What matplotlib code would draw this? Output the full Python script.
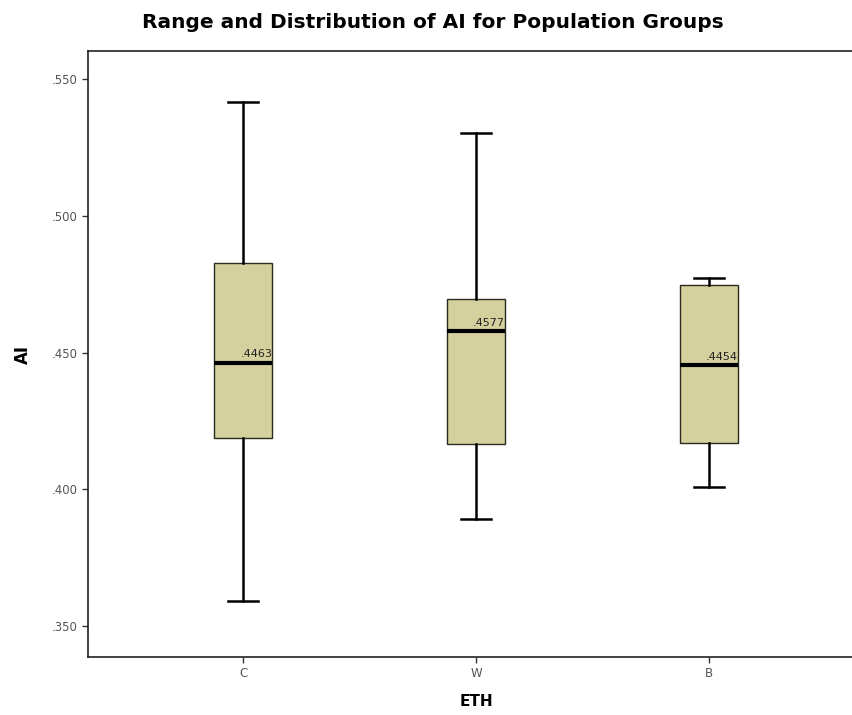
import matplotlib
matplotlib.use("Agg")
import matplotlib.pyplot as plt

# values
groups = ["C", "W", "B"]
whisker_low = [0.3592, 0.3891, 0.4008]
box_low = [0.4186, 0.4166, 0.4168]
medians = [0.4463, 0.4577, 0.4454]
box_high = [0.4828, 0.4696, 0.4748]
whisker_high = [0.5416, 0.5303, 0.4772]
median_labels = [".4463", ".4577", ".4454"]

y_ticks = [0.35, 0.40, 0.45, 0.50, 0.55]
y_tick_labels = [".350", ".400", ".450", ".500", ".550"]

plt.rcParams["font.family"] = ["DejaVu Sans"]

fig = plt.figure(figsize=(8.53, 7.15), dpi=100)
ax = fig.add_axes([88 / 853, 1 - 657 / 715, (864 - 88) / 853, (657 - 51) / 715])

positions = [1, 2, 3]
stats = []
for i, name in enumerate(groups):
    stats.append({
        "label": name,
        "whislo": whisker_low[i],
        "q1": box_low[i],
        "med": medians[i],
        "q3": box_high[i],
        "whishi": whisker_high[i],
        "fliers": [],
    })

ax.bxp(
    stats,
    positions=positions,
    widths=0.25,
    patch_artist=True,
    showfliers=False,
    boxprops=dict(facecolor="#d5d19e", edgecolor="#2a2a1e", linewidth=1.0),
    whiskerprops=dict(color="black", linewidth=1.8),
    capprops=dict(color="black", linewidth=1.8),
    capwidths=0.13,
    medianprops=dict(color="black", linewidth=3.0),
)

for pos, med, text in zip(positions, medians, median_labels):
    ax.text(pos + 0.125, med + 0.0012, text, ha="right", va="bottom",
            fontsize=8, color="#222222")

ax.set_xlim(1 - 155 / 233, 3 + 155 / 233)
ax.set_ylim(0.35 - 31 / 2735, 0.55 + 28 / 2735)

ax.set_yticks(y_ticks)
ax.set_yticklabels(y_tick_labels)
ax.set_xticks(positions)
ax.set_xticklabels(groups)
ax.tick_params(axis="both", direction="out", length=4, width=1,
               labelsize=8.5, labelcolor="#555555", color="#333333")

for side in ["left", "bottom", "top", "right"]:
    ax.spines[side].set_linewidth(1.2)
    ax.spines[side].set_color("#222222")

ax.set_ylabel("AI", fontsize=12, fontweight="bold", labelpad=14)
ax.set_xlabel("ETH", fontsize=11, fontweight="bold", labelpad=10)

fig.text(433 / 853, 1 - 22 / 715, "Range and Distribution of AI for Population Groups",
         ha="center", va="center", fontsize=14.5, fontweight="bold")

fig.savefig("out.png", dpi=100, facecolor="white")
